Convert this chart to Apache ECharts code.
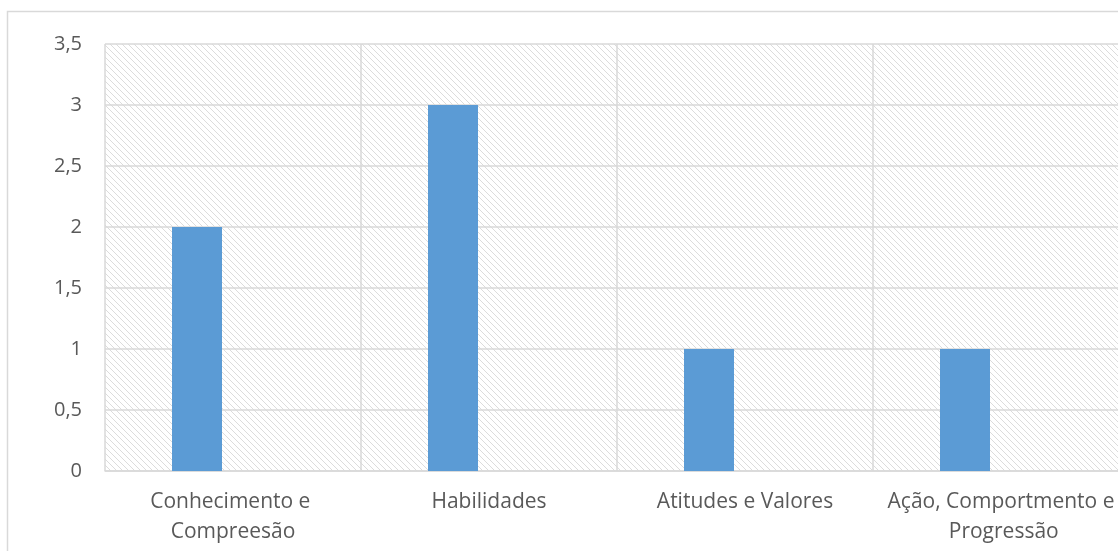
<!DOCTYPE html>
<html>
<head>
<meta charset="utf-8">
<script src="https://cdn.jsdelivr.net/npm/echarts@6/dist/echarts.min.js"></script>
<style>
  html, body { margin: 0; padding: 0; background: #fff; overflow: hidden; }
  /* the plot runs a little past the right edge of the window, as in the picture */
  #chart { width: 1130px; height: 551px; }
</style>
</head>
<body>
<div id="chart"></div>
<script>
// data
var categories = ['Conhecimento e Compreesão', 'Habilidades', 'Atitudes e Valores', 'Ação, Comportmento e Progressão'];
var seriesValues = [2, 3, 1, 1];
var seriesEmpty = [0, 0, 0, 0];
var yTicks = [0, 0.5, 1, 1.5, 2, 2.5, 3, 3.5];

// diagonal hatch for the plot area
function hatch() {
  var c = document.createElement('canvas');
  c.width = 6;
  c.height = 6;
  var ctx = c.getContext('2d');
  ctx.fillStyle = '#ffffff';
  ctx.fillRect(0, 0, 6, 6);
  ctx.strokeStyle = '#dcdcdc';
  ctx.lineWidth = 1;
  [-6, 0, 6].forEach(function (k) {
    ctx.beginPath();
    ctx.moveTo(k, 0);
    ctx.lineTo(k + 6, 6);
    ctx.stroke();
  });
  return c;
}

var gridColor = '#d9d9d9';
var textColor = '#595959';

var chart = echarts.init(document.getElementById('chart'));
chart.setOption({
  animation: false,
  textStyle: { fontFamily: 'Open Sans' },
  graphic: [{
    type: 'rect',
    shape: { x: 7.5, y: 11.5, width: 1300, height: 700 },
    style: { fill: null, stroke: gridColor, lineWidth: 1.5 },
    silent: true,
    z: -10
  }],
  grid: {
    show: true,
    left: 105,
    top: 44,
    right: 1,
    bottom: 80,
    borderWidth: 0,
    backgroundColor: { image: hatch(), repeat: 'repeat' }
  },
  xAxis: {
    type: 'category',
    data: categories,
    axisTick: { show: false },
    axisLine: { lineStyle: { color: gridColor, width: 1.5 } },
    splitLine: { show: true, lineStyle: { color: gridColor, width: 1.5 } },
    axisLabel: {
      interval: 0,
      color: textColor,
      fontSize: 21,
      lineHeight: 30,
      margin: 16,
      width: 250,
      overflow: 'break'
    }
  },
  yAxis: {
    type: 'value',
    min: yTicks[0],
    max: yTicks[yTicks.length - 1],
    interval: 0.5,
    axisLine: { show: false },
    axisTick: { show: false },
    splitLine: { lineStyle: { color: gridColor, width: 1.5 } },
    axisLabel: {
      color: textColor,
      fontSize: 20,
      margin: 23,
      formatter: function (v) { return String(v).replace('.', ','); }
    }
  },
  series: [{
    type: 'bar',
    data: seriesValues,
    barWidth: 50,
    barGap: '44%',
    itemStyle: { color: '#5b9bd5' }
  }, {
    type: 'bar',
    data: seriesEmpty,
    barWidth: 50,
    itemStyle: { color: '#ed7d31' }
  }]
});
window.addEventListener('resize', function () {
  chart.resize();
});
</script>
</body>
</html>
